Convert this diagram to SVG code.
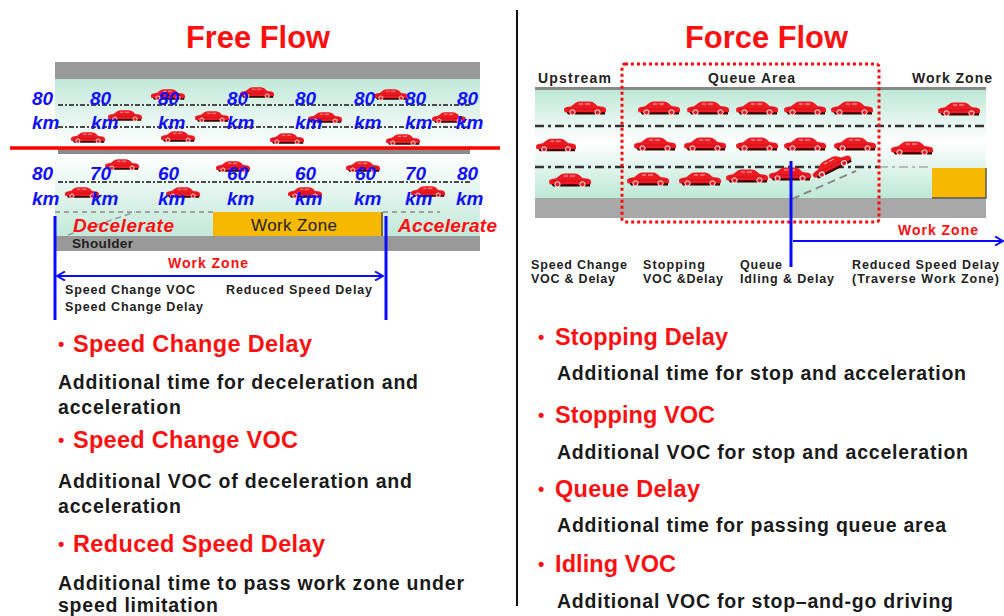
<svg xmlns="http://www.w3.org/2000/svg" xmlns:xlink="http://www.w3.org/1999/xlink" width="1004" height="616" viewBox="0 0 1004 616">
  <style>
    .title { font-family: "Liberation Sans", Arial, sans-serif; font-weight: bold; fill: #ff1010; }
    .spd { font-family: "Liberation Sans", Arial, sans-serif; font-weight: bold; font-style: italic; font-size: 19px; fill: #1010ff; }
    .lbl { font-family: "Liberation Sans", Arial, sans-serif; font-weight: bold; font-size: 12.5px; fill: #222; }
    .head { font-family: "Liberation Sans", Arial, sans-serif; font-weight: bold; font-size: 23.5px; fill: #ff1010; }
    .dot { font-family: "Liberation Sans", Arial, sans-serif; font-weight: bold; font-size: 18px; fill: #ff1010; }
    .body { font-family: "Liberation Sans", Arial, sans-serif; font-weight: bold; font-size: 19.5px; fill: #1a1a1a; }
    .lane { fill: none; stroke: #4a4a4a; stroke-width: 2; stroke-dasharray: 5 2 2 2; }
    .lane2 { fill: none; stroke: #333; stroke-width: 2.5; stroke-dasharray: 9 4 3 4; }
    .blue { stroke: #0a0aff; stroke-width: 3; fill: none; }
  </style>
  <defs>
    <linearGradient id="mintDown" x1="0" y1="0" x2="0" y2="1">
      <stop offset="0" stop-color="#c2e9da"/>
      <stop offset="1" stop-color="#ffffff"/>
    </linearGradient>
    <linearGradient id="mintUp" x1="0" y1="0" x2="0" y2="1">
      <stop offset="0" stop-color="#ffffff"/>
      <stop offset="1" stop-color="#c2e9da"/>
    </linearGradient>
    <linearGradient id="mintBoth" x1="0" y1="0" x2="0" y2="1">
      <stop offset="0" stop-color="#bde8d7"/>
      <stop offset="0.48" stop-color="#ffffff"/>
      <stop offset="1" stop-color="#bde8d7"/>
    </linearGradient>
    <symbol id="car" viewBox="0 0 44 16">
      <path d="M3,11.5 L42,11.5 L42,14.6 L5,14.6 Z" fill="#3a0000"/>
      <path d="M1,9 Q1.5,6.8 8,6.2 L13,2.4 Q14.5,1.4 17,1.4 L27,1.4 Q29.5,1.5 31.5,3.2 L34.5,6 L40,6.8 Q43,7.4 43,10 L43,12.2 L1.5,12.2 Z" fill="#ee1a22"/>
      <path d="M16,4 h4 M22,4 h5" stroke="#ffd0d0" stroke-width="0.9"/>
      <path d="M4,9 h35" stroke="#b80d14" stroke-width="0.6"/>
      <circle cx="9.5" cy="12.4" r="2.6" fill="#ee1a22" stroke="#ffffff" stroke-width="1"/>
      <circle cx="34.5" cy="12.4" r="2.6" fill="#ee1a22" stroke="#ffffff" stroke-width="1"/>
    </symbol>
    <marker id="open" viewBox="0 0 10 10" refX="9" refY="5" markerWidth="10" markerHeight="10" markerUnits="userSpaceOnUse" orient="auto-start-reverse">
      <path d="M1,0.5 L9,5 L1,9.5" fill="none" stroke="#0a0aff" stroke-width="2"/>
    </marker>
  </defs>

  <!-- headings and panel divider -->
  <g id="title-free"><text class="title" x="186" y="48" font-size="31" textLength="144" lengthAdjust="spacingAndGlyphs">Free Flow</text></g>
  <g id="title-force"><text class="title" x="685" y="48" font-size="31" textLength="163" lengthAdjust="spacingAndGlyphs">Force Flow</text></g>
  <line id="divider" x1="517" y1="10" x2="517" y2="606" stroke="#111" stroke-width="2"/>

  <!-- free-flow road -->
  <g id="free-road">
    <rect x="55" y="62" width="425" height="17" fill="#999"/>
    <rect x="55" y="79" width="425" height="68" fill="url(#mintDown)"/>
    <rect x="58" y="148" width="412" height="6" fill="#8a8a8a"/>
    <rect x="55" y="154" width="425" height="82" fill="url(#mintUp)"/>
    <rect x="55" y="236" width="425" height="15" fill="#999"/>
    <line class="lane" x1="58" y1="105" x2="472" y2="105"/>
    <line class="lane" x1="58" y1="127" x2="472" y2="127"/>
    <line class="lane" x1="58" y1="182" x2="472" y2="182"/>
    <path d="M55,212 H213 M383,212 H440" stroke="#8a8a8a" stroke-width="1.5" stroke-dasharray="5 4" fill="none"/>
    <path d="M68,235 L135,212" stroke="#9a9a9a" stroke-width="1.5" stroke-dasharray="6 4" fill="none"/>
    <rect x="213" y="212" width="170" height="24" fill="#f7b900"/>
    <line x1="382" y1="212" x2="382" y2="236" stroke="#555" stroke-width="1.5"/>
    <line x1="10" y1="148" x2="500" y2="148" stroke="#ff0000" stroke-width="3.5"/>
  </g>

  <g id="free-cars">
    <use href="#car" x="148" y="88" width="40" height="13"/>
    <use href="#car" x="237" y="86" width="40" height="13"/>
    <use href="#car" x="372" y="88" width="38" height="13"/>
    <use href="#car" x="105" y="109" width="40" height="13"/>
    <use href="#car" x="192" y="110" width="40" height="13"/>
    <use href="#car" x="305" y="111" width="40" height="13"/>
    <use href="#car" x="430" y="111" width="38" height="13"/>
    <use href="#car" x="68" y="131" width="40" height="13"/>
    <use href="#car" x="158" y="130" width="40" height="13"/>
    <use href="#car" x="267" y="132" width="40" height="13"/>
    <use href="#car" x="383" y="133" width="40" height="13"/>
    <use href="#car" x="102" y="158" width="40" height="13"/>
    <use href="#car" x="213" y="160" width="40" height="13"/>
    <use href="#car" x="343" y="160" width="40" height="13"/>
    <use href="#car" x="62" y="186" width="40" height="13"/>
    <use href="#car" x="163" y="186" width="40" height="13"/>
    <use href="#car" x="285" y="186" width="40" height="13"/>
    <use href="#car" x="408" y="185" width="40" height="13"/>
  </g>

  <g id="free-speeds">
    <text class="spd" x="32" y="105">80</text><text class="spd" x="32" y="129">km</text>
    <text class="spd" x="90" y="105">80</text><text class="spd" x="91" y="129">km</text>
    <text class="spd" x="158" y="105">80</text><text class="spd" x="158" y="129">km</text>
    <text class="spd" x="227" y="105">80</text><text class="spd" x="227" y="129">km</text>
    <text class="spd" x="295" y="105">80</text><text class="spd" x="295" y="129">km</text>
    <text class="spd" x="354" y="105">80</text><text class="spd" x="354" y="129">km</text>
    <text class="spd" x="405" y="105">80</text><text class="spd" x="405" y="129">km</text>
    <text class="spd" x="457" y="105">80</text><text class="spd" x="456" y="129">km</text>

    <text class="spd" x="32" y="180">80</text><text class="spd" x="32" y="205">km</text>
    <text class="spd" x="90" y="180">70</text><text class="spd" x="91" y="205">km</text>
    <text class="spd" x="158" y="180">60</text><text class="spd" x="158" y="205">km</text>
    <text class="spd" x="227" y="180">60</text><text class="spd" x="227" y="205">km</text>
    <text class="spd" x="295" y="180">60</text><text class="spd" x="295" y="205">km</text>
    <text class="spd" x="355" y="180">60</text><text class="spd" x="354" y="205">km</text>
    <text class="spd" x="405" y="180">70</text><text class="spd" x="405" y="205">km</text>
    <text class="spd" x="457" y="180">80</text><text class="spd" x="456" y="205">km</text>
  </g>

  <g id="free-zones">
    <text class="spd" x="73" y="232" style="fill:#ff1010" textLength="101">Decelerate</text>
    <text x="251" y="231" font-family="Liberation Sans, Arial, sans-serif" font-size="17" fill="#222" textLength="86">Work Zone</text>
    <text class="spd" x="398" y="232" style="fill:#ff1010" textLength="99">Accelerate</text>
    <text class="lbl" x="72" y="248" style="font-size:13.5px" textLength="61">Shoulder</text>
  </g>

  <g id="free-connectors">
    <line class="blue" x1="55" y1="216" x2="55" y2="320"/>
    <line class="blue" x1="386" y1="216" x2="386" y2="320"/>
    <line x1="57" y1="276" x2="383" y2="276" stroke="#0a0aff" stroke-width="2" marker-start="url(#open)" marker-end="url(#open)"/>
  </g>

  <g id="free-labels">
    <text class="lbl" x="168" y="268" style="fill:#ff1010;font-size:14px" textLength="80">Work Zone</text>
    <text class="lbl" x="65" y="294" textLength="130">Speed Change VOC</text>
    <text class="lbl" x="65" y="311" textLength="138">Speed Change Delay</text>
    <text class="lbl" x="226" y="294" textLength="146">Reduced Speed Delay</text>
  </g>

  <!-- free-flow cost items -->
  <g id="free-items">
    <text class="dot" x="58" y="350">•</text>
    <text class="head" x="73" y="352" textLength="239">Speed Change Delay</text>
    <text class="body" x="58" y="389" textLength="360">Additional time for deceleration and</text>
    <text class="body" x="58" y="414" textLength="123">acceleration</text>
    <text class="dot" x="58" y="446">•</text>
    <text class="head" x="73" y="448" textLength="225">Speed Change VOC</text>
    <text class="body" x="58" y="488" textLength="354">Additional VOC of deceleration and</text>
    <text class="body" x="58" y="513" textLength="123">acceleration</text>
    <text class="dot" x="58" y="550">•</text>
    <text class="head" x="73" y="552" textLength="252">Reduced Speed Delay</text>
    <text class="body" x="58" y="590" textLength="406">Additional time to pass work zone under</text>
    <text class="body" x="58" y="612" textLength="160">speed limitation</text>
  </g>

  <!-- forced-flow road -->
  <g id="force-road">
    <rect x="535" y="87" width="451" height="3" fill="#888"/>
    <rect x="535" y="90" width="451" height="108" fill="url(#mintBoth)"/>
    <rect x="535" y="198" width="451" height="20" fill="#a8a8a8"/>
    <line class="lane2" x1="535" y1="126" x2="986" y2="126"/>
    <line class="lane2" x1="535" y1="167" x2="879" y2="167"/>
    <line x1="879" y1="167" x2="928" y2="167" stroke="#bbb" stroke-width="2" stroke-dasharray="9 4 3 4"/>
    <path d="M792,199 L856,171" stroke="#8a8a8a" stroke-width="2" stroke-dasharray="8 5" fill="none"/>
    <rect x="932" y="168" width="54" height="30" fill="#f7b900"/>
    <path d="M932,198 H986 V168" stroke="#555" stroke-width="1.5" fill="none"/>
  </g>

  <g id="force-cars">
    <use href="#car" x="563" y="100" width="44" height="16"/>
    <use href="#car" x="637" y="100" width="44" height="16"/>
    <use href="#car" x="686" y="100" width="44" height="16"/>
    <use href="#car" x="735" y="100" width="44" height="16"/>
    <use href="#car" x="783" y="100" width="44" height="16"/>
    <use href="#car" x="830" y="100" width="44" height="16"/>
    <use href="#car" x="937" y="101" width="44" height="16"/>
    <use href="#car" x="535" y="137" width="42" height="16"/>
    <use href="#car" x="633" y="136" width="44" height="16"/>
    <use href="#car" x="683" y="136" width="44" height="16"/>
    <use href="#car" x="735" y="136" width="44" height="16"/>
    <use href="#car" x="783" y="136" width="44" height="16"/>
    <use href="#car" x="833" y="136" width="44" height="16"/>
    <use href="#car" x="890" y="140" width="44" height="16"/>
    <use href="#car" x="548" y="172" width="44" height="16"/>
    <use href="#car" x="626" y="171" width="44" height="16"/>
    <use href="#car" x="678" y="171" width="44" height="16"/>
    <use href="#car" x="725" y="168" width="44" height="16"/>
    <use href="#car" x="768" y="166" width="44" height="16"/>
    <use href="#car" x="809" y="157" width="44" height="16" transform="rotate(-27 831 165)"/>
  </g>

  <g id="queue-area">
    <rect x="622" y="64" width="257" height="158" rx="3" fill="none" stroke="#ff0a0a" stroke-width="3" stroke-dasharray="3 3"/>
  </g>

  <g id="force-heads">
    <text class="lbl" x="538" y="83" style="font-size:14px" textLength="73">Upstream</text>
    <text class="lbl" x="708" y="83" style="font-size:14px" textLength="87">Queue Area</text>
    <text class="lbl" x="912" y="83" style="font-size:14px" textLength="80">Work Zone</text>
  </g>

  <g id="force-connectors">
    <line class="blue" x1="791" y1="161" x2="791" y2="267"/>
    <line x1="793" y1="241" x2="1003" y2="241" stroke="#0a0aff" stroke-width="2" marker-end="url(#open)"/>
  </g>

  <g id="force-labels">
    <text class="lbl" x="898" y="235" style="fill:#ff1010;font-size:14px" textLength="80">Work Zone</text>
    <text class="lbl" x="531" y="269" textLength="96">Speed Change</text>
    <text class="lbl" x="531" y="283" textLength="84">VOC &amp; Delay</text>
    <text class="lbl" x="643" y="269" textLength="62">Stopping</text>
    <text class="lbl" x="643" y="283" textLength="80">VOC &amp;Delay</text>
    <text class="lbl" x="740" y="269" textLength="42">Queue</text>
    <text class="lbl" x="740" y="283" textLength="94">Idling &amp; Delay</text>
    <text class="lbl" x="852" y="269" textLength="147">Reduced Speed Delay</text>
    <text class="lbl" x="852" y="283" textLength="147">(Traverse Work Zone)</text>
  </g>

  <!-- forced-flow cost items -->
  <g id="force-items">
    <text class="dot" x="538" y="343">•</text>
    <text class="head" x="555" y="345" textLength="173">Stopping Delay</text>
    <text class="body" x="557" y="380" textLength="409">Additional time for stop and acceleration</text>
    <text class="dot" x="538" y="421">•</text>
    <text class="head" x="555" y="423" textLength="160">Stopping VOC</text>
    <text class="body" x="557" y="459" textLength="411">Additional VOC for stop and acceleration</text>
    <text class="dot" x="538" y="495">•</text>
    <text class="head" x="555" y="497" textLength="145">Queue Delay</text>
    <text class="body" x="557" y="532" textLength="389">Additional time for passing queue area</text>
    <text class="dot" x="538" y="570">•</text>
    <text class="head" x="555" y="572" textLength="121">Idling VOC</text>
    <text class="body" x="557" y="608" textLength="396">Additional VOC for stop–and-go driving</text>
  </g>
</svg>
